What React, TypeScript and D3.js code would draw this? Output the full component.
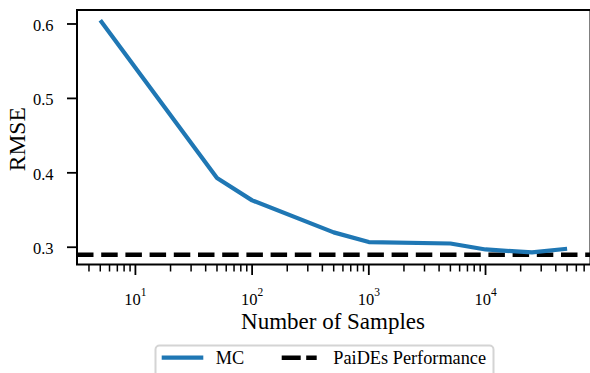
import React, { useEffect, useRef } from "react";
import * as d3 from "d3";

// Monte Carlo RMSE as the number of samples grows, against the PaiDEs baseline
const sampleCounts = [5, 50, 100, 500, 1000, 5000, 10000, 25000, 50000];
const mcRmse = [0.605, 0.393, 0.363, 0.32, 0.307, 0.305, 0.297, 0.293, 0.298];
const paidesRmse = 0.29;
const yTicks = [0.3, 0.4, 0.5, 0.6];
const xDecades = [1, 2, 3, 4];
const seriesNames = ["MC", "PaiDEs Performance"];

const W = 590;
const H = 373;
const FONT = "Liberation Serif, DejaVu Serif, serif";
const BLUE = "#1f77b4";

export default function App() {
  const ref = useRef<SVGSVGElement | null>(null);

  useEffect(() => {
    const svg = d3.select(ref.current);
    svg.selectAll("*").remove();

    const left = 77, right = 590.5, top = 10, bottom = 264.5;

    const x = d3.scaleLog().domain([Math.pow(10, 0.4995), Math.pow(10, 4.8995)]).range([left, right]);
    const y = d3.scaleLinear().domain([0.2768, 0.6188]).range([bottom, top]);

    const g = svg.append("g").style("font-family", FONT);

    // clip for data marks
    svg.append("defs").append("clipPath").attr("id", "plot-clip")
      .append("rect").attr("x", left).attr("y", top).attr("width", right - left).attr("height", bottom - top);

    // baseline
    g.append("line")
      .attr("clip-path", "url(#plot-clip)")
      .attr("x1", left).attr("x2", right)
      .attr("y1", y(paidesRmse)).attr("y2", y(paidesRmse))
      .attr("stroke", "#000").attr("stroke-width", 4.5)
      .attr("stroke-dasharray", "16.5 7.7");

    // MC line
    const line = d3.line<number>()
      .x((_, i) => x(sampleCounts[i]))
      .y((d) => y(d));
    g.append("path")
      .attr("clip-path", "url(#plot-clip)")
      .attr("d", line(mcRmse) as string)
      .attr("fill", "none")
      .attr("stroke", BLUE)
      .attr("stroke-width", 4.2)
      .attr("stroke-linejoin", "round");

    // frame
    g.append("rect")
      .attr("x", left).attr("y", top).attr("width", right - left).attr("height", bottom - top)
      .attr("fill", "none").attr("stroke", "#000").attr("stroke-width", 2);

    // y ticks
    yTicks.forEach((t) => {
      g.append("line")
        .attr("x1", left - 10).attr("x2", left)
        .attr("y1", y(t)).attr("y2", y(t))
        .attr("stroke", "#000").attr("stroke-width", 1.8);
      g.append("text")
        .attr("x", left - 23.5).attr("y", y(t) + 7)
        .attr("text-anchor", "end")
        .style("font-family", FONT).attr("font-size", 16.5)
        .attr("fill", "#000")
        .text(d3.format(".1f")(t));
    });

    // x minor ticks
    const [d0, d1] = x.domain();
    for (let e = 0; e <= 5; e++) {
      for (let m = 2; m <= 9; m++) {
        const v = m * Math.pow(10, e);
        if (v < d0 || v > d1) continue;
        g.append("line")
          .attr("x1", x(v)).attr("x2", x(v))
          .attr("y1", bottom).attr("y2", bottom + 7)
          .attr("stroke", "#000").attr("stroke-width", 1.5);
      }
    }

    // x major ticks with 10^n labels
    xDecades.forEach((p) => {
      const v = Math.pow(10, p);
      g.append("line")
        .attr("x1", x(v)).attr("x2", x(v))
        .attr("y1", bottom).attr("y2", bottom + 10.5)
        .attr("stroke", "#000").attr("stroke-width", 1.8);
      const t = g.append("text")
        .attr("x", x(v)).attr("y", 304.5)
        .attr("text-anchor", "middle")
        .style("font-family", FONT).attr("font-size", 16.5)
        .attr("fill", "#000");
      t.append("tspan").text("10");
      t.append("tspan").attr("dy", -9).attr("font-size", 11.5).text(String(p));
    });

    // axis titles
    g.append("text")
      .attr("x", (left + 589) / 2).attr("y", 328.5)
      .attr("text-anchor", "middle")
      .style("font-family", FONT).attr("font-size", 23)
      .attr("fill", "#000")
      .text("Number of Samples");
    g.append("text")
      .attr("transform", `translate(24.5, ${(top + bottom) / 2 + 2}) rotate(-90)`)
      .attr("text-anchor", "middle")
      .style("font-family", FONT).attr("font-size", 23.5)
      .attr("fill", "#000")
      .text("RMSE");

    // legend
    const lg = g.append("g");
    lg.append("rect")
      .attr("x", 155.5).attr("y", 345.5).attr("width", 338).attr("height", 40)
      .attr("rx", 4).attr("fill", "#fff")
      .attr("stroke", "#d4d4d4").attr("stroke-width", 2);
    const ly = 357.7;
    lg.append("line")
      .attr("x1", 161.7).attr("x2", 203.3).attr("y1", ly).attr("y2", ly)
      .attr("stroke", BLUE).attr("stroke-width", 4.2);
    lg.append("text")
      .attr("x", 215.7).attr("y", 363.7)
      .style("font-family", FONT).attr("font-size", 18.3).attr("fill", "#000")
      .text(seriesNames[0]);
    lg.append("line")
      .attr("x1", 281.7).attr("x2", 316.7).attr("y1", ly).attr("y2", ly)
      .attr("stroke", "#000").attr("stroke-width", 4.5)
      .attr("stroke-dasharray", "19 5.5");
    lg.append("text")
      .attr("x", 333.3).attr("y", 363.7)
      .style("font-family", FONT).attr("font-size", 18.3).attr("fill", "#000")
      .text(seriesNames[1]);
  }, []);

  return (
    <svg
      ref={ref}
      width={W}
      height={H}
      style={{ position: "absolute", left: 0, top: 0, background: "#fff" }}
    />
  );
}
